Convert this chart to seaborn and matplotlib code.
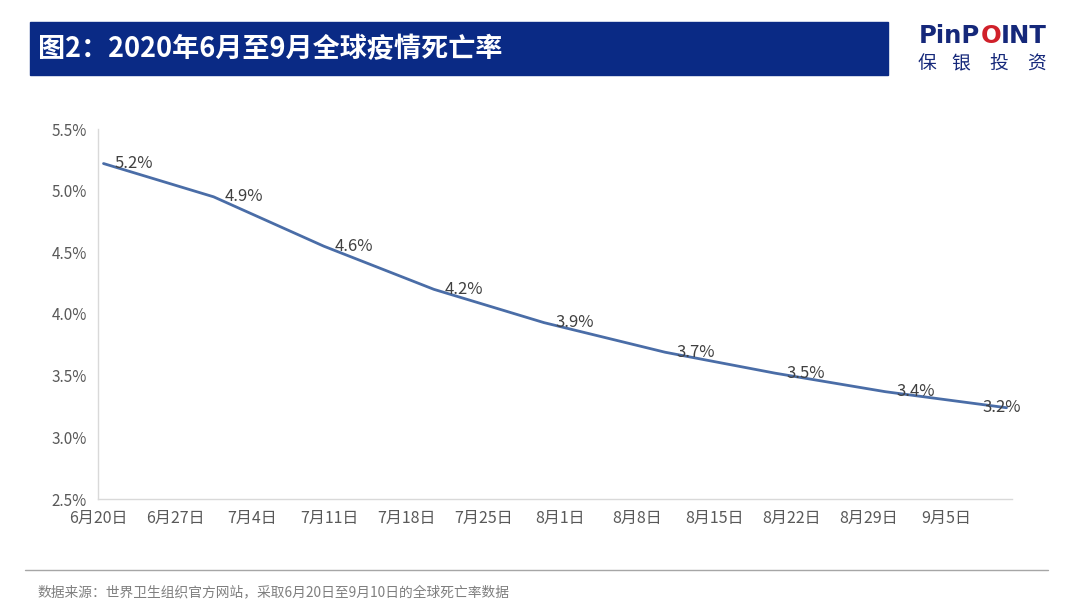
import pandas as pd
import seaborn as sns
import matplotlib.pyplot as plt
import matplotlib.patches as mpatches
from matplotlib.ticker import FuncFormatter

dates = ['2020-06-20', '2020-06-30', '2020-07-10', '2020-07-20', '2020-07-30',
         '2020-08-10', '2020-08-20', '2020-08-30', '2020-09-10']
rate = [5.22, 4.95, 4.55, 4.20, 3.93, 3.69, 3.52, 3.37, 3.24]
labels = ['5.2%', '4.9%', '4.6%', '4.2%', '3.9%', '3.7%', '3.5%', '3.4%', '3.2%']
tick_dates = pd.date_range('2020-06-20', '2020-09-05', freq='7D')

data = pd.DataFrame({'date': pd.to_datetime(dates), 'rate': rate})
# excel date axis puts each point in the middle of its day
data['date'] = data['date'] + pd.Timedelta(hours=12)

sns.set_style('white')
plt.rcParams['font.family'] = ['Noto Sans CJK SC', 'DejaVu Sans']

fig = plt.figure(figsize=(10.8, 6.08), dpi=100)
ax = fig.add_axes([98 / 1080, 1 - 499 / 608, 914 / 1080, 370 / 608])

sns.lineplot(x='date', y='rate', data=data, ax=ax, color='#4A6DA7', linewidth=2)

for i, (d, v, t) in enumerate(zip(data['date'], data['rate'], labels)):
    off = -17 if i == len(labels) - 1 else 8
    ax.annotate(t, (d, v), xytext=(off, 0), textcoords='offset points',
                ha='left', va='center', fontsize=12, color='#404040')

ax.set_ylim(2.5, 5.5)
ax.set_yticks([2.5, 3.0, 3.5, 4.0, 4.5, 5.0, 5.5])
ax.yaxis.set_major_formatter(FuncFormatter(lambda v, p: f'{v:.1f}%'))
ax.set_xlim(pd.Timestamp('2020-06-20'), pd.Timestamp('2020-09-11'))
ax.set_xticks(tick_dates)
ax.set_xticklabels([f'{d.month}月{d.day}日' for d in tick_dates])
ax.set_xlabel('')
ax.set_ylabel('')

for s in ['top', 'right']:
    ax.spines[s].set_visible(False)
for s in ['left', 'bottom']:
    ax.spines[s].set_color('#D9D9D9')
    ax.spines[s].set_linewidth(1)
ax.tick_params(axis='x', length=5, color='#D9D9D9', labelsize=11.5, labelcolor='#595959', pad=3)
ax.tick_params(axis='y', length=0, labelsize=11, labelcolor='#595959', pad=8)

# title bar
fig.patches.append(mpatches.Rectangle((30 / 1080, 1 - 75 / 608), 858 / 1080, 53 / 608,
                                      transform=fig.transFigure, color='#0A2A85'))
fig.text(38 / 1080, 1 - 49 / 608, '图2：2020年6月至9月全球疫情死亡率', color='white',
         fontsize=19.5, fontweight='bold', va='center', ha='left')

# logo
fig.canvas.draw()
renderer = fig.canvas.get_renderer()
x = 919 / 1080
for part, col in [('PinP', '#15287A'), ('O', '#D0202A'), ('INT', '#15287A')]:
    t = fig.text(x, 1 - 36 / 608, part, color=col, fontsize=17.5, fontweight='bold',
                 va='center', ha='left', family='DejaVu Sans')
    bb = t.get_window_extent(renderer)
    x = bb.x1 / fig.bbox.width
for ch, cx in zip('保银投资', [927, 961, 999, 1036]):
    fig.text(cx / 1080, 1 - 64 / 608, ch, color='#15287A', fontsize=13.5,
             va='center', ha='center')

# footer
fig.add_artist(plt.Line2D([25 / 1080, 1048 / 1080], [1 - 570 / 608, 1 - 570 / 608],
                          transform=fig.transFigure, color='#A6A6A6', linewidth=1))
fig.text(38 / 1080, 1 - 592 / 608, '数据来源：世界卫生组织官方网站，采取6月20日至9月10日的全球死亡率数据',
         color='#7F7F7F', fontsize=9.9, va='center', ha='left')

fig.savefig('out.png', dpi=100)
